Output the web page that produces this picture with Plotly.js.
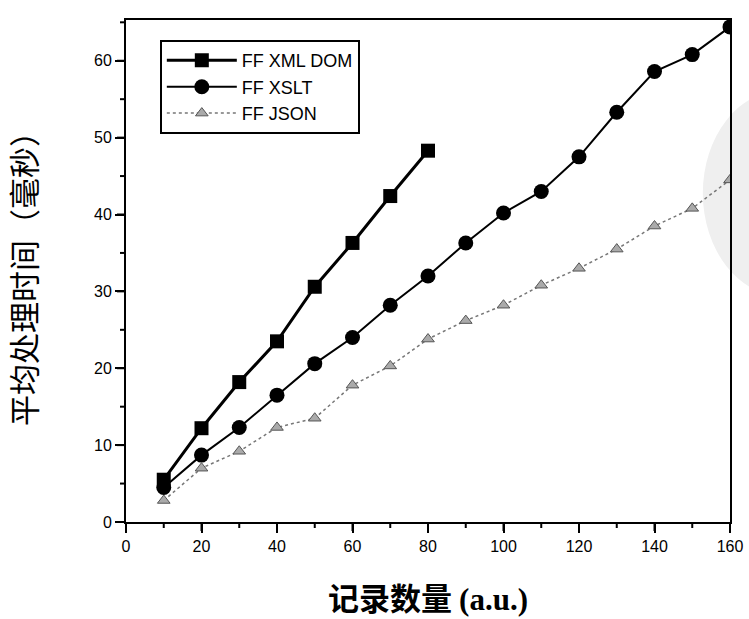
<!DOCTYPE html>
<html>
<head>
<meta charset="utf-8">
<script src="https://cdn.plot.ly/plotly-3.0.1.min.js"></script>
<style>html,body{margin:0;padding:0;background:#fff;}#chart{width:749px;height:619px;}</style>
</head>
<body>
<div id="chart"></div>
<script>
// data
const xDom = [10, 20, 30, 40, 50, 60, 70, 80];
const yDom = [5.5, 12.2, 18.2, 23.5, 30.6, 36.3, 42.4, 48.3];
const xAll = [10, 20, 30, 40, 50, 60, 70, 80, 90, 100, 110, 120, 130, 140, 150, 160];
const yXslt = [4.5, 8.7, 12.3, 16.5, 20.6, 24.0, 28.2, 32.0, 36.3, 40.2, 43.0, 47.5, 53.3, 58.6, 60.8, 64.4];
const yJson = [2.8, 7.0, 9.2, 12.3, 13.5, 17.8, 20.3, 23.8, 26.2, 28.2, 30.8, 33.0, 35.5, 38.5, 40.8, 44.5];
const names = ["FF XML DOM", "FF XSLT", "FF JSON"];
// axis tick values
const xMajor = [0, 20, 40, 60, 80, 100, 120, 140, 160];
const xMinor = [10, 30, 50, 70, 90, 110, 130, 150];
const yMajor = [0, 10, 20, 30, 40, 50, 60];
const yMinor = [5, 15, 25, 35, 45, 55, 65];

const W = 749, H = 619;
const M = {l: 126, r: 19, t: 20, b: 97};
const plotW = W - M.l - M.r, plotH = H - M.t - M.b;
const xRange = [0, 160], yRange = [0, 65.3];
const majLen = 9, minLen = 6, tickW = 2;
const halfWx = (tickW / 2) * (xRange[1] - xRange[0]) / plotW;
const halfWy = (tickW / 2) * (yRange[1] - yRange[0]) / plotH;

// tick marks as filled axis-referenced rectangles placed by the axis scale
function xTicks(vals, len) {
  return vals.map(v => ({type: "rect", xref: "x", yref: "paper", layer: "above",
    x0: v - halfWx, x1: v + halfWx, y0: 0, y1: -len / plotH,
    fillcolor: "#000", line: {width: 0}}));
}
function yTicks(vals, len) {
  return vals.map(v => ({type: "rect", xref: "paper", yref: "y", layer: "above",
    x0: 0, x1: -len / plotW, y0: v - halfWy, y1: v + halfWy,
    fillcolor: "#000", line: {width: 0}}));
}

const traces = [
  {x: xDom, y: yDom, name: names[0], legendgroup: "a", mode: "lines+markers",
   line: {color: "#000", width: 3},
   marker: {symbol: "square", size: 14, color: "#000"}},
  {x: xAll, y: yXslt, name: names[1], legendgroup: "b", mode: "lines+markers",
   line: {color: "#000", width: 2},
   marker: {symbol: "circle", size: 15, color: "#000"}},
  {x: xAll, y: yJson, name: names[2], legendgroup: "c", mode: "lines+markers",
   line: {color: "#777", width: 1.5, dash: "dot"},
   marker: {symbol: "triangle-up", size: 11, color: "#aaa", line: {color: "#555", width: 1}}}
];

const layout = {
  width: W, height: H,
  margin: M,
  paper_bgcolor: "#fff",
  plot_bgcolor: "rgba(0,0,0,0)",
  font: {family: "Liberation Sans, Arial, sans-serif", color: "#000", size: 16},
  showlegend: true,
  legend: {x: 0.056, y: 0.96, xanchor: "left", yanchor: "top",
    bordercolor: "#000", borderwidth: 2, bgcolor: "#fff",
    font: {size: 18, family: "Liberation Sans, Arial, sans-serif", color: "#000"},
    tracegroupgap: 0, itemwidth: 70},
  xaxis: {
    range: xRange, tickvals: xMajor, ticktext: xMajor.map(String),
    showgrid: false, zeroline: false, showline: true, linecolor: "#000", linewidth: 2, mirror: true,
    ticks: "outside", ticklen: majLen, tickwidth: tickW, tickcolor: "#000",
    tickfont: {size: 16, color: "#000"},
    title: {text: '记录数量 <span style="font-family:Liberation Serif">(a.u.)</span>', standoff: 42,
      font: {size: 31, family: "Noto Sans CJK SC, sans-serif", color: "#000", weight: "bold"}}},
  yaxis: {
    range: yRange, tickvals: yMajor, ticktext: yMajor.map(String),
    showgrid: false, zeroline: false, showline: true, linecolor: "#000", linewidth: 2, mirror: true,
    ticks: "outside", ticklen: majLen, tickwidth: tickW, tickcolor: "#000",
    tickfont: {size: 16, color: "#000"},
    title: {text: "平均处理时间（毫秒）", standoff: 48,
      font: {size: 31, family: "Noto Sans CJK SC, sans-serif", color: "#000"}}},
  shapes: [
    {type: "circle", xref: "paper", yref: "paper", layer: "below",
     x0: 0.955, x1: 1.22, y0: 0.45, y1: 0.86,
     fillcolor: "#efefef", line: {width: 0}}
  ].concat(xTicks(xMajor, majLen), xTicks(xMinor, minLen), yTicks(yMajor, majLen), yTicks(yMinor, minLen))
};

Plotly.newPlot("chart", traces, layout, {displayModeBar: false});
</script>
</body>
</html>
